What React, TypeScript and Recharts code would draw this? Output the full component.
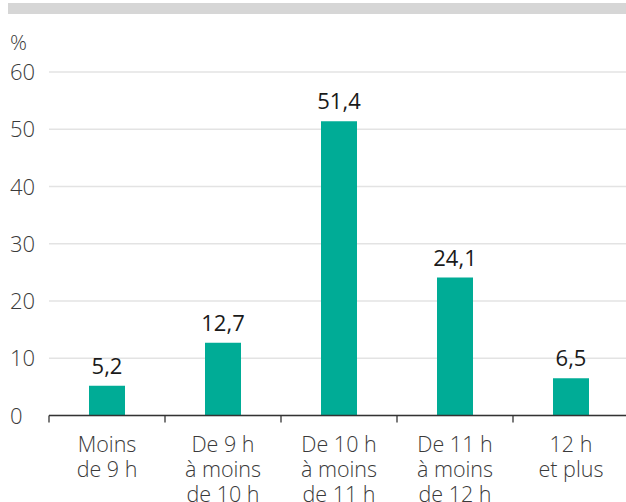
import React from 'react';
import { BarChart, Bar, XAxis, YAxis, CartesianGrid, LabelList } from 'recharts';

const categories = [
  ['Moins', 'de 9 h'],
  ['De 9 h', 'à moins', 'de 10 h'],
  ['De 10 h', 'à moins', 'de 11 h'],
  ['De 11 h', 'à moins', 'de 12 h'],
  ['12 h', 'et plus'],
];
const values = [5.2, 12.7, 51.4, 24.1, 6.5];
const yTicks = [0, 10, 20, 30, 40, 50, 60];

const data = categories.map((lines, i) => ({ name: lines.join(' '), lines, value: values[i] }));

const FONT = '"Open Sans", sans-serif';
const BAND = 116;

const YTick = ({ y, payload }: any) => (
  <text x={10} y={y} dy={8} textAnchor="start" fontSize={22} fontWeight={300} fill="#3a3a3a" fontFamily={FONT}>
    {payload.value}
  </text>
);

const XTick = ({ x, y, index }: any) => {
  const lines = categories[index] || [];
  return (
    <g>
      <line x1={x - BAND / 2} x2={x - BAND / 2} y1={y - 8} y2={y - 1} stroke="#333" strokeWidth={1.3} />
      <text x={x} y={y + 28} textAnchor="middle" fontSize={21.5} fontWeight={300} fill="#3a3a3a" fontFamily={FONT}>
        {lines.map((l, i) => (
          <tspan key={i} x={x} dy={i === 0 ? 0 : 25}>{l}</tspan>
        ))}
      </text>
    </g>
  );
};

const fmt = (v: number) => v.toFixed(1).replace('.', ',');

export default function App() {
  return (
    <div style={{ position: 'relative', width: 626, height: 502, overflow: 'hidden', background: '#fff' }}>
      <style>{'body{margin:0}'}</style>
      <div style={{ position: 'absolute', left: 8, top: 3, width: 618, height: 11, background: '#d6d6d6' }} />
      <div style={{ position: 'absolute', left: 10, top: 28, fontSize: 21, fontWeight: 300, fontFamily: FONT, color: '#3a3a3a' }}>%</div>
      <div style={{ position: 'absolute', left: 0, top: 0 }}>
        <BarChart
          width={640}
          height={502}
          data={data}
          margin={{ top: 72, right: 11, bottom: 0, left: 48 }}
        >
          <CartesianGrid vertical={false} stroke="#e3e3e3" strokeWidth={1.5} />
          <XAxis
            dataKey="name"
            interval={0}
            height={86.5}
            axisLine={{ stroke: '#333', strokeWidth: 1.3 }}
            tickLine={false}
            tick={<XTick />}
          />
          <YAxis
            width={1}
            domain={[0, 60]}
            ticks={yTicks}
            interval={0}
            axisLine={false}
            tickLine={false}
            tick={<YTick />}
          />
          <Bar dataKey="value" fill="#00ac96" barSize={36} isAnimationActive={false}>
            <LabelList
              dataKey="value"
              position="top"
              offset={12}
              formatter={fmt}
              fontSize={22}
              fill="#1a1a1a"
              fontFamily={FONT}
            />
          </Bar>
        </BarChart>
      </div>
    </div>
  );
}
